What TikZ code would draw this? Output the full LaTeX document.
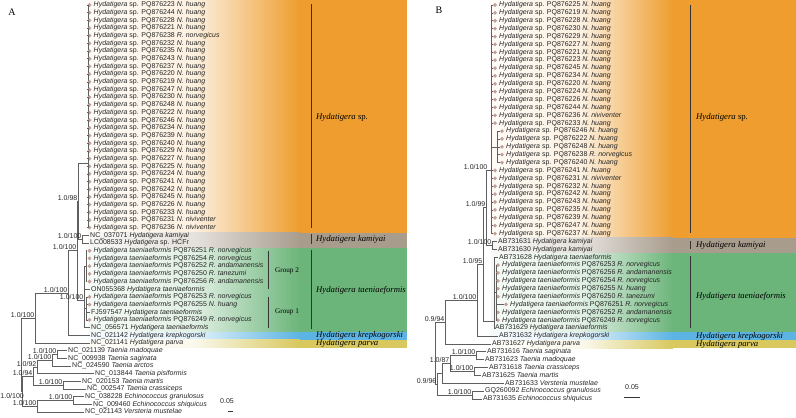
\documentclass[tikz,border=0pt]{standalone}
\usepackage{fontspec}
\setmainfont{Liberation Serif}
\setsansfont{Liberation Sans}
\usetikzlibrary{shapes.geometric}

\definecolor{spcol}{RGB}{238,157,46}
\definecolor{kamcol}{RGB}{168,156,141}
\definecolor{taecol}{RGB}{108,181,122}
\definecolor{krecol}{RGB}{92,180,228}
\definecolor{parcol}{RGB}{216,200,94}
\definecolor{tipcol}{RGB}{196,160,150}
\definecolor{treegray}{RGB}{95,95,95}

\tikzset{
  leaf/.style={anchor=west, inner sep=0.6pt, text=black!85, font=\sffamily\fontsize{7}{7.2}\selectfont},
  tipmark/.style={diamond, fill=tipcol, inner sep=0pt, minimum size=4.2pt},
  support/.style={anchor=south east, inner sep=0.5pt, text=black!85, font=\sffamily\fontsize{7}{7.2}\selectfont},
  branch/.style={draw=treegray, line width=0.6pt},
  cladebar/.style={draw=black!80, line width=0.7pt},
  clade/.style={anchor=west, inner sep=0pt, font=\rmfamily\fontsize{8.7}{9}\selectfont},
  grouplabel/.style={anchor=west, inner sep=0pt, font=\rmfamily\fontsize{7.2}{7.4}\selectfont},
  panel/.style={inner sep=0pt, font=\rmfamily\fontsize{10}{10}\selectfont},
}

\begin{document}
\begin{tikzpicture}[x=1pt,y=-1pt]
\useasboundingbox (0,0) rectangle (796,418);

% colour bands, panel A
\shade[left color=spcol!4, right color=spcol, middle color=spcol!15] (88,0) rectangle (300,232.5);
\fill[spcol] (300,0) rectangle (407,232.5);
\shade[left color=kamcol!8, right color=kamcol, middle color=kamcol!30] (88,232.5) rectangle (300,248);
\fill[kamcol] (300,232.5) rectangle (407,248);
\shade[left color=taecol!6, right color=taecol, middle color=taecol!20] (88,248) rectangle (300,332);
\fill[taecol] (300,248) rectangle (407,332);
\shade[left color=krecol!5, right color=krecol, middle color=krecol!18] (88,332) rectangle (300,339.5);
\fill[krecol] (300,332) rectangle (407,339.5);
\shade[left color=parcol!4, right color=parcol, middle color=parcol!12] (88,339.5) rectangle (300,347.5);
\fill[parcol] (300,339.5) rectangle (407,347.5);

% colour bands, panel B
\shade[left color=spcol!4, right color=spcol, middle color=spcol!15] (491,0) rectangle (673,237.5);
\fill[spcol] (673,0) rectangle (796,237.5);
\shade[left color=kamcol!8, right color=kamcol, middle color=kamcol!30] (491,237.5) rectangle (673,253);
\fill[kamcol] (673,237.5) rectangle (796,253);
\shade[left color=taecol!6, right color=taecol, middle color=taecol!20] (491,253) rectangle (673,332);
\fill[taecol] (673,253) rectangle (796,332);
\shade[left color=krecol!5, right color=krecol, middle color=krecol!18] (491,332) rectangle (673,340);
\fill[krecol] (673,332) rectangle (796,340);
\shade[left color=parcol!4, right color=parcol, middle color=parcol!12] (491,340) rectangle (673,348);
\fill[parcol] (673,340) rectangle (796,348);

\node[panel] (pA) at (12,12) {A};
\node[panel] (pB) at (439,10) {B};

% ================= panel A =================
\coordinate (aspc) at (88,163);
\coordinate (akam) at (82,239.3);
\coordinate (a98) at (78,201.2);
\coordinate (ag2) at (86,266.1);
\coordinate (ag1) at (86.5,308.4);
\coordinate (atae) at (84,300);
\coordinate (a100b) at (77,250.6);
\coordinate (a100c) at (68,292.9);
\coordinate (ahyd) at (35,317.9);
\coordinate (atm) at (57,354.5);
\coordinate (ata) at (52,360.2);
\coordinate (atp) at (37,366.9);
\coordinate (amc) at (63,385.2);
\coordinate (at94) at (33,376);
\coordinate (aech) at (73,400.5);
\coordinate (aev) at (37,406.2);
\coordinate (aog) at (22,391.1);
\coordinate (aroot) at (21,354.5);

% Hydatigera sp. rows 1-30
\foreach \acc/\host [count=\i] in {223/N. huang, 244/N. huang, 228/N. huang, 221/N. huang,
    238/R. norvegicus, 232/N. huang, 235/N. huang, 243/N. huang, 237/N. huang, 220/N. huang,
    219/N. huang, 247/N. huang, 230/N. huang, 248/N. huang, 222/N. huang, 246/N. huang,
    234/N. huang, 239/N. huang, 240/N. huang, 229/N. huang, 227/N. huang, 225/N. huang,
    224/N. huang, 241/N. huang, 242/N. huang, 245/N. huang, 226/N. huang, 233/N. huang,
    231/N. niviventer, 236/N. niviventer}{
  \pgfmathsetmacro{\y}{5+(\i-1)*7.68}
  \node[tipmark] (dA\i) at (89.5,\y) {};
  \node[leaf] (lA\i) at (92.9,\y) {\textit{Hydatigera} sp. PQ876\acc\ \textit{\host}};
  \draw[branch] (aspc) |- (dA\i.west);
}

% H. taeniaeformis, group 2 (rows 33-37) and group 1 (rows 39, 40, 42)
\foreach \acc/\host/\i in {251/R. norvegicus/33, 254/R. norvegicus/34, 252/R. andamanensis/35,
    250/R. tanezumi/36, 256/R. andamanensis/37}{
  \pgfmathsetmacro{\y}{5+(\i-1)*7.68}
  \node[tipmark] (dA\i) at (89.5,\y) {};
  \node[leaf] (lA\i) at (92.9,\y) {\textit{Hydatigera taeniaeformis} PQ876\acc\ \textit{\host}};
  \draw[branch] (ag2) |- (dA\i.west);
}
\foreach \acc/\host/\i in {253/R. norvegicus/39, 255/N. huang/40, 249/R. norvegicus/42}{
  \pgfmathsetmacro{\y}{5+(\i-1)*7.68}
  \node[tipmark] (dA\i) at (89.5,\y) {};
  \node[leaf] (lA\i) at (92.9,\y) {\textit{Hydatigera taeniaeformis} PQ876\acc\ \textit{\host}};
  \draw[branch] (ag1) |- (dA\i.west);
}

% other tips, panel A
\node[leaf] (lA31) at (89.4,235.4) {NC\_037071 \textit{Hydatigera kamiyai}};
\node[leaf] (lA32) at (89.4,243.1) {LC008533 \textit{Hydatigera} sp. HCFr};
\node[leaf] (lA38) at (90.4,289.2) {ON055368 \textit{Hydatigera taeniaeformis}};
\node[leaf] (lA41) at (90.4,312.2) {FJ597547 \textit{Hydatigera taeniaeformis}};
\node[leaf] (lA43) at (90.4,327.6) {NC\_056571 \textit{Hydatigera taeniaeformis}};
\node[leaf] (lA44) at (90.4,335.2) {NC\_021142 \textit{Hydatigera krepkogorski}};
\node[leaf] (lA45) at (90.4,342.9) {NC\_021141 \textit{Hydatigera parva}};
\node[leaf] (lA46) at (67.4,350.6) {NC\_021139 \textit{Taenia madoquae}};
\node[leaf] (lA47) at (67.4,358.3) {NC\_009938 \textit{Taenia saginata}};
\node[leaf] (lA48) at (71.4,366.0) {NC\_024590 \textit{Taenia arctos}};
\node[leaf] (lA49) at (94.4,373.6) {NC\_013844 \textit{Taenia pisiformis}};
\node[leaf] (lA50) at (81.4,381.3) {NC\_020153 \textit{Taenia martis}};
\node[leaf] (lA51) at (86.4,389.0) {NC\_002547 \textit{Taenia crassiceps}};
\node[leaf] (lA52) at (84.4,396.7) {NC\_038228 \textit{Echinococcus granulosus}};
\node[leaf] (lA53) at (92.4,404.4) {NC\_009460 \textit{Echinococcus shiquicus}};
\node[leaf] (lA54) at (84.4,412.0) {NC\_021143 \textit{Versteria mustelae}};

% branches, panel A
\draw[branch] (akam) |- (lA31.west);
\draw[branch] (akam) |- (lA32.west);
\draw[branch] (a98) |- (aspc);
\draw[branch] (a98) |- (akam);
\draw[branch] (atae) |- (ag2);
\draw[branch] (atae) |- (lA38.west);
\draw[branch] (ag1) |- (lA41.west);
\draw[branch] (atae) |- (ag1);
\draw[branch] (atae) |- (lA43.west);
\draw[branch] (a100b) |- (a98);
\draw[branch] (a100b) |- (atae);
\draw[branch] (a100c) |- (a100b);
\draw[branch] (a100c) |- (lA44.west);
\draw[branch] (ahyd) |- (a100c);
\draw[branch] (ahyd) |- (lA45.west);
\draw[branch] (atm) |- (lA46.west);
\draw[branch] (atm) |- (lA47.west);
\draw[branch] (ata) |- (atm);
\draw[branch] (ata) |- (lA48.west);
\draw[branch] (atp) |- (ata);
\draw[branch] (atp) |- (lA49.west);
\draw[branch] (amc) |- (lA50.west);
\draw[branch] (amc) |- (lA51.west);
\draw[branch] (at94) |- (atp);
\draw[branch] (at94) |- (amc);
\draw[branch] (aech) |- (lA52.west);
\draw[branch] (aech) |- (lA53.west);
\draw[branch] (aev) |- (aech);
\draw[branch] (aev) |- (lA54.west);
\draw[branch] (aog) |- (at94);
\draw[branch] (aog) |- (aev);
\draw[branch] (aroot) |- (ahyd);
\draw[branch] (aroot) |- (aog);

% support values, panel A
\node[support] (sakam) at (akam) {1.0/100};
\node[support] (sa98) at (a98) {1.0/98};
\node[support] (sa100b) at (a100b) {1.0/100};
\node[support] (satae) at (atae) {1.0/100};
\node[support] (sa100c) at (a100c) {1.0/100};
\node[support] (sahyd) at (ahyd) {1.0/100};
\node[support] (satm) at (atm) {1.0/100};
\node[support] (sata) at (ata) {1.0/100};
\node[support] (satp) at (atp) {1.0/92};
\node[support] (samc) at (amc) {1.0/100};
\node[support] (sat94) at (at94) {1.0/94};
\node[support] (saech) at (aech) {1.0/100};
\node[support] (saev) at (aev) {1.0/100};
\node[support] (saog) at (24.5,399) {1.0/100};

% clade bars, panel A
\draw[cladebar] (311,4) -- (311,228);
\draw[cladebar] (311,234) -- (311,244);
\draw[cladebar] (311,250) -- (311,329);
\draw[cladebar] (268,251) -- (268,289);
\draw[cladebar] (268,297) -- (268,328);
\node[clade] (cAsp) at (316,117) {\textit{Hydatigera} sp.};
\node[clade] (cAkam) at (316,239) {\textit{Hydatigera kamiyai}};
\node[clade] (cAtae) at (316,290) {\textit{Hydatigera taeniaeformis}};
\node[clade] (cAkre) at (316,335.5) {\textit{Hydatigera krepkogorski}};
\node[clade] (cApar) at (316,343.5) {\textit{Hydatigera parva}};
\node[grouplabel] (gA2) at (275,271) {Group 2};
\node[grouplabel] (gA1) at (275,312) {Group 1};

% scale bar A
\node[leaf, anchor=center] (scA) at (227,401) {0.05};
\draw[cladebar] (228,411) -- (233,411);

% ================= panel B =================
\coordinate (bsub) at (497,146.9);
\coordinate (bspc) at (491,170);
\coordinate (bsp) at (488,170);
\coordinate (bkam) at (492,245.3);
\coordinate (b99) at (486,207.6);
\coordinate (btae) at (494,321);
\coordinate (btp) at (496,292.6);
\coordinate (b95) at (483,264.3);
\coordinate (b100) at (477,300.1);
\coordinate (b94) at (445,322);
\coordinate (bsm) at (476,355.6);
\coordinate (bcm) at (474,371.5);
\coordinate (b87) at (450,363.6);
\coordinate (bx) at (442,373.4);
\coordinate (bech) at (472,395);
\coordinate (b96) at (437,384.2);
\coordinate (broot) at (435.5,353.1);

% Hydatigera sp. rows 1-16, 22-30
\foreach \acc/\host/\i in {225/N. huang/1, 219/N. huang/2, 228/N. huang/3, 230/N. huang/4,
    229/N. huang/5, 227/N. huang/6, 221/N. huang/7, 223/N. huang/8, 245/N. huang/9,
    234/N. huang/10, 220/N. huang/11, 224/N. huang/12, 226/N. huang/13, 244/N. huang/14,
    236/N. niviventer/15, 233/N. huang/16, 241/N. huang/22, 231/N. niviventer/23,
    232/N. huang/24, 242/N. huang/25, 243/N. huang/26, 235/N. huang/27, 239/N. huang/28,
    247/N. huang/29, 237/N. huang/30}{
  \pgfmathsetmacro{\y}{5+(\i-1)*7.88}
  \node[tipmark] (dB\i) at (495,\y) {};
  \node[leaf] (lB\i) at (498.4,\y) {\textit{Hydatigera} sp. PQ876\acc\ \textit{\host}};
  \draw[branch] (bspc) |- (dB\i.west);
}
% sub-clade rows 17-21
\foreach \acc/\host [count=\i from 17] in {246/N. huang, 222/N. huang, 248/N. huang,
    238/R. norvegicus, 240/N. huang}{
  \pgfmathsetmacro{\y}{5+(\i-1)*7.88}
  \node[tipmark] (dB\i) at (502,\y) {};
  \node[leaf] (lB\i) at (505.4,\y) {\textit{Hydatigera} sp. PQ876\acc\ \textit{\host}};
  \draw[branch] (bsub) |- (dB\i.west);
}
% H. taeniaeformis rows 34-41
\foreach \acc/\host/\i/\xd in {253/R. norvegicus/34/498, 256/R. andamanensis/35/498,
    254/R. norvegicus/36/498, 255/N. huang/37/498, 250/R. tanezumi/38/498,
    251/R. norvegicus/39/506, 252/R. andamanensis/40/498, 249/R. norvegicus/41/498}{
  \pgfmathsetmacro{\y}{5+(\i-1)*7.88}
  \node[tipmark] (dB\i) at (\xd,\y) {};
  \node[leaf] (lB\i) at (\xd+3.4,\y) {\textit{Hydatigera taeniaeformis} PQ876\acc\ \textit{\host}};
  \draw[branch] (btp) |- (dB\i.west);
}

% other tips, panel B
\node[leaf] (lB31) at (497.4,241.4) {AB731631 \textit{Hydatigera kamiyai}};
\node[leaf] (lB32) at (497.4,249.3) {AB731630 \textit{Hydatigera kamiyai}};
\node[leaf] (lB33) at (498.4,257.2) {AB731628 \textit{Hydatigera taeniaeformis}};
\node[leaf] (lB42) at (494.4,328.1) {AB731629 \textit{Hydatigera taeniaeformis}};
\node[leaf] (lB43) at (498.4,336.0) {AB731632 \textit{Hydatigera krepkogorski}};
\node[leaf] (lB44) at (491.4,343.8) {AB731627 \textit{Hydatigera parva}};
\node[leaf] (lB45) at (486.4,351.7) {AB731616 \textit{Taenia saginata}};
\node[leaf] (lB46) at (484.4,359.6) {AB731623 \textit{Taenia madoquae}};
\node[leaf] (lB47) at (488.4,367.5) {AB731618 \textit{Taenia crassiceps}};
\node[leaf] (lB48) at (481.4,375.4) {AB731625 \textit{Taenia martis}};
\node[leaf] (lB49) at (504.4,383.2) {AB731633 \textit{Versteria mustelae}};
\node[leaf] (lB50) at (484.4,391.1) {GQ260092 \textit{Echinococcus granulosus}};
\node[leaf] (lB51) at (482.4,399.0) {AB731635 \textit{Echinococcus shiquicus}};

% branches, panel B
\draw[branch] (bspc) |- (bsub);
\draw[branch] (bsp) -- (bspc);
\draw[branch] (bkam) |- (lB31.west);
\draw[branch] (bkam) |- (lB32.west);
\draw[branch] (b99) |- (bsp);
\draw[branch] (b99) |- (bkam);
\draw[branch] (btae) |- (lB33.west);
\draw[branch] (btae) |- (btp);
\draw[branch] (btae) |- (lB42.west);
\draw[branch] (b95) |- (b99);
\draw[branch] (b95) |- (btae);
\draw[branch] (b100) |- (b95);
\draw[branch] (b100) |- (lB43.west);
\draw[branch] (b94) |- (b100);
\draw[branch] (b94) |- (lB44.west);
\draw[branch] (bsm) |- (lB45.west);
\draw[branch] (bsm) |- (lB46.west);
\draw[branch] (bcm) |- (lB47.west);
\draw[branch] (bcm) |- (lB48.west);
\draw[branch] (b87) |- (bsm);
\draw[branch] (b87) |- (bcm);
\draw[branch] (bx) |- (b87);
\draw[branch] (bx) |- (lB49.west);
\draw[branch] (bech) |- (lB50.west);
\draw[branch] (bech) |- (lB51.west);
\draw[branch] (b96) |- (bx);
\draw[branch] (b96) |- (bech);
\draw[branch] (broot) |- (b94);
\draw[branch] (broot) |- (b96);

% support values, panel B
\node[support] (sbsp) at (bsp) {1.0/100};
\node[support] (sb99) at (b99) {1.0/99};
\node[support] (sbkam) at (bkam) {1.0/100};
\node[support] (sb95) at (b95) {1.0/95};
\node[support] (sb100) at (b100) {1.0/100};
\node[support] (sb94) at (b94) {0.9/94};
\node[support] (sbsm) at (bsm) {1.0/100};
\node[support] (sb87) at (b87) {1.0/87};
\node[support] (sbcm) at (bcm) {1.0/100};
\node[support] (sb96) at (b96) {0.9/96};
\node[support] (sbech) at (bech) {1.0/100};

% clade bars, panel B
\draw[cladebar] (690,5) -- (690,233);
\draw[cladebar] (690,241) -- (690,249);
\draw[cladebar] (690,256) -- (690,328);
\node[clade] (cBsp) at (696,117) {\textit{Hydatigera} sp.};
\node[clade] (cBkam) at (696,245) {\textit{Hydatigera kamiyai}};
\node[clade] (cBtae) at (696,296) {\textit{Hydatigera taeniaeformis}};
\node[clade] (cBkre) at (696,336) {\textit{Hydatigera krepkogorski}};
\node[clade] (cBpar) at (696,344) {\textit{Hydatigera parva}};

% scale bar B
\node[leaf, anchor=center] (scB) at (632,387) {0.05};
\draw[cladebar] (624,397) -- (640,397);

\end{tikzpicture}
\end{document}
